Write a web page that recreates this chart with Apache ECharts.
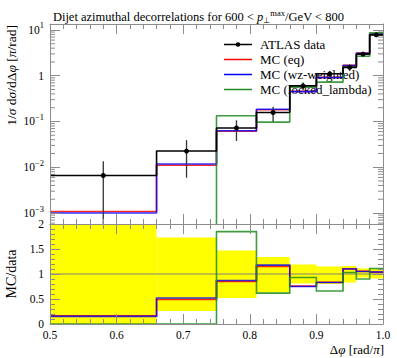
<!DOCTYPE html>
<html><head><meta charset="utf-8">
<script src="https://cdn.jsdelivr.net/npm/echarts@6/dist/echarts.min.js"></script>
<style>html,body{margin:0;padding:0;background:#fff}#c{width:397px;height:358px}</style>
</head><body><div id="c"></div>
<script>
// ---- data ----
const binEdges   = [0.5, 0.66, 0.75, 0.81, 0.86, 0.90, 0.94, 0.96, 0.98, 1.0];
const dataVals   = [0.0066, 0.0226, 0.072, 0.157, 0.60, 1.10, 1.52, 2.96, 7.8];
const dataErrUp  = [0.0070, 0.0165, 0.034, 0.053, 0.114, 0.165, 0.243, 0.33, 0.86];
const dataErrDn  = [0.0066, 0.0167, 0.0346, 0.058, 0.114, 0.22, 0.258, 0.21, 0.70];
const mcEq       = [0.00108, 0.0111, 0.0612, 0.181, 0.455, 0.92, 1.68, 3.12, 8.1];
const mcWz       = [0.00100, 0.01175, 0.0626, 0.185, 0.45, 0.913, 1.672, 3.108, 8.11];
const mcLocked   = [0, 0, 0.133, 0.097, 0.558, 0.726, 1.566, 2.66, 8.66];
const seriesNames = ['ATLAS data', 'MC (eq)', 'MC (wz-weighted)', 'MC (locked_lambda)'];
const ratioTickLabels = ['0', '0.5', '1', '1.5', '2'];

// ---- helpers ----
const FONT = 'Liberation Serif';
const AX = '#8c8c8c';
const COL = {data:'#000000', eq:'#ff0000', wz:'#0000ff', locked:'#1f8a1f'};
const RCOL = {eq:'rgba(255,0,0,0.85)', wz:'rgba(0,0,255,0.8)', locked:'rgba(31,138,31,0.85)'};
const LOGFLOOR = -10;
const lg = v => v > 0 ? Math.log10(v) : LOGFLOOR;
const last = a => a[a.length - 1];
function stepPts(vals, f) {
  const p = vals.map((v, i) => [binEdges[i], f(v)]);
  p.push([last(binEdges), f(last(vals))]);
  return p;
}
function stepOutline(vals) {
  const p = [];
  vals.forEach((v, i) => { p.push([binEdges[i], v], [binEdges[i + 1], v]); });
  return p;
}
const centers = dataVals.map((_, i) => (binEdges[i] + binEdges[i + 1]) / 2);
const ratio = arr => arr.map((v, i) => v / dataVals[i]);

const minorLog = [];
for (let n = -4; n <= 1; n++) for (let k = 2; k <= 9; k++) {
  const v = Math.log10(k) + n;
  if (v > -3.24 && v < 1.13) minorLog.push([0.5, v]);
}

function xAx(gridIndex, position, showLabel) {
  return {type:'value', gridIndex, position, min:0.5, max:1.0, interval:0.1, z:20,
    axisLine:{show:true, onZero:false, lineStyle:{color:AX, width:1}},
    axisTick:{show:true, inside:true, length:10, lineStyle:{color:AX}},
    minorTick:{show:true, splitNumber:5, length:5, lineStyle:{color:AX}},
    splitLine:{show:false}, minorSplitLine:{show:false},
    axisLabel:{show:showLabel, margin:5, fontFamily:FONT, fontSize:11.5, color:'#000',
      formatter: v => v.toFixed(1)}};
}
function yMain(position, showLabel) {
  return {type:'value', gridIndex:0, position, min:-3.24, max:1.13, splitNumber:4,
    minInterval:1, maxInterval:1, z:20,
    axisLine:{show:true, onZero:false, lineStyle:{color:AX, width:1}},
    axisTick:{show:true, inside:true, length:10, lineStyle:{color:AX}},
    minorTick:{show:false}, splitLine:{show:false},
    axisLabel:{show:showLabel, margin:6, fontFamily:FONT, fontSize:11.5, color:'#000',
      formatter: v => { const r = Math.round(v); if (Math.abs(v - r) > 1e-6) return '';
        if (r === 0) return '1'; return '10{s|' + (r < 0 ? '\u2212' : '') + Math.abs(r) + '}'; },
      rich:{s:{fontSize:8.5, fontFamily:FONT, color:'#000', padding:[0,0,9,0]}}}};
}
function yRatio(position, showLabel) {
  return {type:'value', gridIndex:1, position, min:0, max:2, interval:0.5, z:20,
    axisLine:{show:true, onZero:false, lineStyle:{color:AX, width:1}},
    axisTick:{show:true, inside:true, length:10, lineStyle:{color:AX}},
    minorTick:{show:true, splitNumber:5, length:5, lineStyle:{color:AX}},
    splitLine:{show:false},
    axisLabel:{show:showLabel, margin:6, fontFamily:FONT, fontSize:11.5, color:'#000',
      formatter: v => ratioTickLabels[Math.round(v * 2)] ?? ''}};
}
function step(name, vals, f, color, xi, yi, z, op) {
  return {type:'line', name, step:'end', data:stepPts(vals, f), xAxisIndex:xi, yAxisIndex:yi,
    symbol:'none', showSymbol:false, lineStyle:{color, width:1.6, opacity:op}, itemStyle:{color},
    z, silent:true, clip:true, emphasis:{disabled:true}};
}
function ratioStep(name, vals, stroke, z) {
  const pts = stepOutline(ratio(vals));
  return {type:'custom', name, xAxisIndex:2, yAxisIndex:2, z, silent:true, clip:true,
    emphasis:{disabled:true}, data: pts, encode:{x:0, y:1},
    renderItem:(p, api) => p.dataIndex !== 0 ? null : ({type:'polyline',
      shape:{points: pts.map(q => api.coord(q))},
      style:{stroke, lineWidth:1.6, fill:null}})};
}
const lineIcon = 'path://M0,0h30v1.6h-30z';
const dataIcon = 'path://M0,4.2h30v1.6h-30z M15,2.5a2.5,2.5 0 1,1 0,5a2.5,2.5 0 1,1 0,-5z';

const chart = echarts.init(document.getElementById('c'), null, {renderer:'svg'});
chart.setOption({
  animation:false,
  backgroundColor:'#fff',
  textStyle:{fontFamily:FONT},
  title:{left:'center', top:3,
    text:'Dijet azimuthal decorrelations for 600 < {i|p}{sub|\u22a5}{sup|max}/GeV < 800',
    textStyle:{fontFamily:FONT, fontSize:12.5, fontWeight:'normal', color:'#000',
      rich:{i:{fontFamily:FONT, fontSize:12.5, fontStyle:'italic', color:'#000'},
            sub:{fontFamily:FONT, fontSize:8, color:'#000', padding:[8,0,0,0]},
            sup:{fontFamily:FONT, fontSize:8.5, color:'#000', padding:[0,0,8,0]}}}},
  grid:[
    {left:50, right:14, top:24, height:200, containLabel:false, outerBoundsMode:'none'},
    {left:50, right:14, top:224, height:100, containLabel:false, outerBoundsMode:'none'}
  ],
  xAxis:[xAx(0,'bottom',false), xAx(0,'top',false), xAx(1,'bottom',true), xAx(1,'top',false)],
  yAxis:[yMain('left',true), yMain('right',false), yRatio('left',true), yRatio('right',false)],
  legend:{orient:'vertical', left:224, top:38, itemWidth:28, itemHeight:12, itemGap:2,
    symbolKeepAspect:true, selectedMode:false, padding:0,
    textStyle:{fontFamily:FONT, fontSize:13, lineHeight:13, color:'#000', padding:[0,0,0,3]},
    data:[
      {name:seriesNames[0], icon:dataIcon, itemStyle:{color:COL.data}},
      {name:seriesNames[1], icon:lineIcon, itemStyle:{color:COL.eq}},
      {name:seriesNames[2], icon:lineIcon, itemStyle:{color:COL.wz}},
      {name:seriesNames[3], icon:lineIcon, itemStyle:{color:COL.locked}}]},
  graphic:[
    {type:'text', x:11, y:25, rotation:Math.PI/2, silent:true,
      style:{text:'1/{i|\u03c3} d{i|\u03c3}/d\u0394{i|\u03c6} [{i|\u03c0}/rad]', fontFamily:FONT, fontSize:13.5, fill:'#000',
        textAlign:'right', textVerticalAlign:'middle',
        rich:{i:{fontFamily:FONT, fontSize:13.5, fontStyle:'italic', fill:'#000'}}}},
    {type:'text', x:11, y:274, rotation:Math.PI/2, silent:true,
      style:{text:'MC/data', fontFamily:FONT, fontSize:14, fill:'#000', textAlign:'center', textVerticalAlign:'middle'}},
    {type:'text', x:384, y:349, silent:true,
      style:{text:'\u0394{i|\u03c6} [rad/{i|\u03c0}]', fontFamily:FONT, fontSize:13, fill:'#000',
        textAlign:'right', textVerticalAlign:'middle',
        rich:{i:{fontFamily:FONT, fontSize:13, fontStyle:'italic', fill:'#000'}}}}
  ],
  series:[
    {type:'custom', name:'band', xAxisIndex:2, yAxisIndex:2, z:1, silent:true, clip:true,
      emphasis:{disabled:true},
      data: dataVals.map((v, i) => [binEdges[i], binEdges[i + 1], 1 - dataErrDn[i] / v, 1 + dataErrUp[i] / v]),
      encode:{x:[0,1], y:[2,3]},
      renderItem:(p, api) => {
        const a = api.coord([api.value(0), api.value(3)]), b = api.coord([api.value(1), api.value(2)]);
        return {type:'rect', shape:{x:a[0], y:a[1], width:b[0] - a[0], height:b[1] - a[1]},
          style:{fill:'#ffff00'}};
      }},
    {type:'custom', name:'unity', xAxisIndex:2, yAxisIndex:2, z:2, silent:true,
      emphasis:{disabled:true}, data:[[0.5, 1], [1.0, 1]], encode:{x:0, y:1},
      renderItem:(p, api) => {
        if (p.dataIndex !== 0) return null;
        const a = api.coord([0.5, 1]), b = api.coord([1.0, 1]);
        return {type:'line', shape:{x1:a[0], y1:a[1], x2:b[0], y2:b[1]}, style:{stroke:'#808080', lineWidth:1}};
      }},
    ratioStep('r_eq', mcEq, RCOL.eq, 3),
    ratioStep('r_wz', mcWz, RCOL.wz, 4),
    ratioStep('r_locked', mcLocked, RCOL.locked, 5),
    step(seriesNames[1], mcEq, lg, COL.eq, 0, 0, 3, 0.85),
    step(seriesNames[2], mcWz, lg, COL.wz, 0, 0, 4, 0.8),
    step(seriesNames[3], mcLocked, lg, COL.locked, 0, 0, 5, 0.85),
    step('data_step', dataVals, lg, COL.data, 0, 0, 6, 1),
    {type:'custom', name:'data_err', xAxisIndex:0, yAxisIndex:0, z:7, silent:true, clip:true,
      emphasis:{disabled:true},
      data: dataVals.map((v, i) => [centers[i], lg(v - dataErrDn[i]), lg(v + dataErrUp[i])]),
      encode:{x:0, y:[1,2]},
      renderItem:(p, api) => {
        const a = api.coord([api.value(0), api.value(1)]), b = api.coord([api.value(0), api.value(2)]);
        return {type:'line', shape:{x1:a[0], y1:a[1], x2:b[0], y2:b[1]}, style:{stroke:'#333', lineWidth:1.3}};
      }},
    {type:'line', name:seriesNames[0], xAxisIndex:0, yAxisIndex:0, z:8, silent:true,
      emphasis:{disabled:true},
      data: dataVals.map((v, i) => [centers[i], lg(v)]),
      symbol:'circle', symbolSize:5, itemStyle:{color:'#000'}, lineStyle:{opacity:0, color:'#000'}},
    {type:'custom', name:'log_minor', xAxisIndex:0, yAxisIndex:0, z:2, silent:true,
      emphasis:{disabled:true},
      data: minorLog, encode:{x:0, y:1},
      renderItem:(p, api) => {
        const pl = api.coord([0.5, api.value(1)]), pr = api.coord([1.0, api.value(1)]);
        return {type:'group', children:[
          {type:'line', shape:{x1:pl[0], y1:pl[1], x2:pl[0] + 5, y2:pl[1]}, style:{stroke:AX, lineWidth:1}},
          {type:'line', shape:{x1:pr[0] - 5, y1:pr[1], x2:pr[0], y2:pr[1]}, style:{stroke:AX, lineWidth:1}}]};
      }}
  ]
});
</script></body></html>
